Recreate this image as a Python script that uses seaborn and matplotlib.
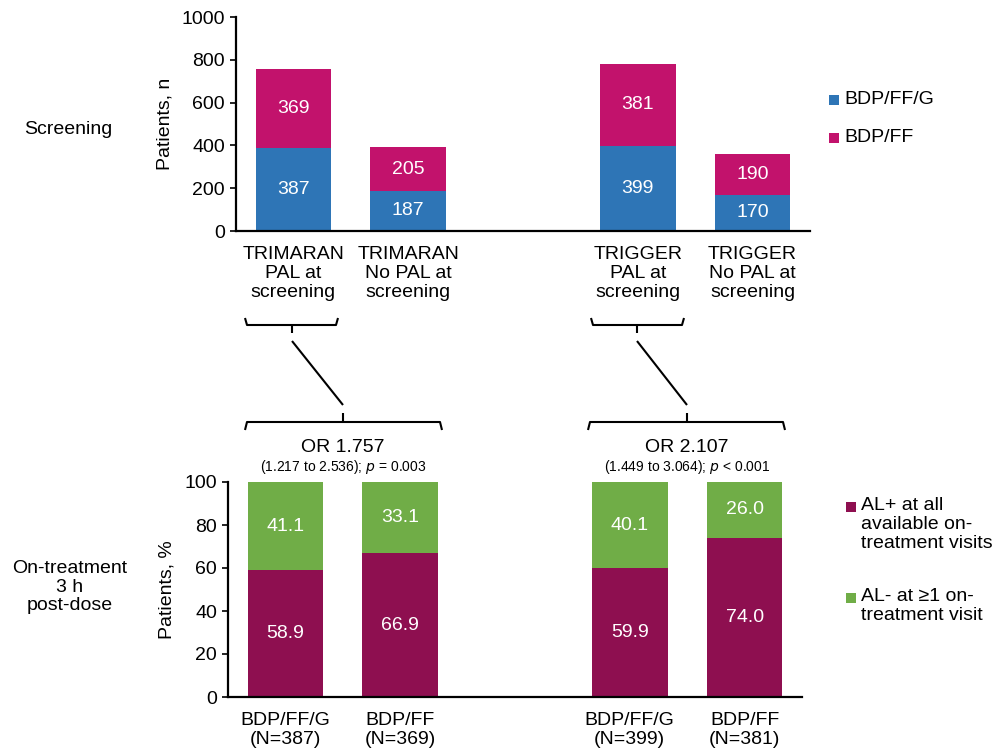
import pandas as pd
import seaborn as sns
import matplotlib.pyplot as plt
from matplotlib.lines import Line2D
from matplotlib.patches import Rectangle

# screening counts (top panel)
screen_groups = ['TRIMARAN\nPAL at\nscreening', 'TRIMARAN\nNo PAL at\nscreening', '',
                 'TRIGGER\nPAL at\nscreening', 'TRIGGER\nNo PAL at\nscreening']
screen_cats = [g for g in screen_groups if g]
n_triple = [387, 187, 399, 170]
n_dual = [369, 205, 381, 190]

# on-treatment percentages (bottom panel)
treat_groups = ['BDP/FF/G\n(N=387)', 'BDP/FF\n(N=369)', ' ',
                'BDP/FF/G\n(N=399)', 'BDP/FF\n(N=381)']
treat_cats = [g for g in treat_groups if g.strip()]
pct_pos = [58.9, 66.9, 59.9, 74.0]
pct_neg = [41.1, 33.1, 40.1, 26.0]

or_main = ['OR 1.757', 'OR 2.107']
or_ci = ['(1.217 to 2.536); $\\it{p}$ = 0.003', '(1.449 to 3.064); $\\it{p}$ < 0.001']

BLUE = '#2E75B6'
PINK = '#C2126C'
MAROON = '#8E0F50'
GREEN = '#70AD47'

sns.set_theme(style='ticks')
plt.rcParams['font.family'] = ['Liberation Sans', 'DejaVu Sans']
plt.rcParams['font.size'] = 14
plt.rcParams['text.color'] = 'black'
plt.rcParams['axes.labelcolor'] = 'black'
plt.rcParams['xtick.color'] = 'black'
plt.rcParams['ytick.color'] = 'black'

W, H = 997, 754
fig = plt.figure(figsize=(W / 100, H / 100), dpi=100)


def px(x, y):
    return x / W, 1 - y / H


def stacked(ax, order, cats, low, high, c_low, c_high, fmt):
    top = pd.DataFrame({'grp': cats, 'val': [a + b for a, b in zip(low, high)]})
    bot = pd.DataFrame({'grp': cats, 'val': low})
    sns.barplot(data=top, x='grp', y='val', order=order, color=c_high,
                saturation=1, width=0.66, linewidth=0, edgecolor='none', ax=ax)
    sns.barplot(data=bot, x='grp', y='val', order=order, color=c_low,
                saturation=1, width=0.66, linewidth=0, edgecolor='none', ax=ax)
    for cat, a, b in zip(cats, low, high):
        i = order.index(cat)
        ax.text(i, a / 2, fmt.format(a), ha='center', va='center', color='white', fontsize=14)
        ax.text(i, a + b / 2, fmt.format(b), ha='center', va='center', color='white', fontsize=14)
    ax.set_xlim(-0.5, 4.5)
    ax.set_xlabel('')
    sns.despine(ax=ax)
    for side in ['left', 'bottom']:
        ax.spines[side].set_linewidth(1.6)
        ax.spines[side].set_color('black')
    ax.tick_params(axis='x', length=0, pad=11, labelsize=14)
    ax.tick_params(axis='y', length=4, width=1.2, pad=4, labelsize=14)
    for t in ax.get_xticklabels():
        t.set_linespacing(1.15)


# top panel
ax1 = fig.add_axes([236 / W, 1 - 231 / H, (810 - 236) / W, (231 - 17) / H])
stacked(ax1, screen_groups, screen_cats, n_triple, n_dual, BLUE, PINK, '{:d}')
ax1.set_ylim(0, 1000)
ax1.set_yticks(range(0, 1001, 200))
ax1.set_ylabel('Patients, n', fontsize=14, labelpad=6)

# bottom panel
ax2 = fig.add_axes([228 / W, 1 - 697 / H, (802 - 228) / W, (697 - 482) / H])
stacked(ax2, treat_groups, treat_cats, pct_pos, pct_neg, MAROON, GREEN, '{:.1f}')
ax2.set_ylim(0, 100)
ax2.set_yticks(range(0, 101, 20))
ax2.set_ylabel('Patients, %', fontsize=14, labelpad=6)

# row labels
fig.text(*px(68, 130), 'Screening', ha='center', va='center', fontsize=14)
fig.text(*px(70, 587), 'On-treatment\n3 h\npost-dose', ha='center', va='center',
         fontsize=14, linespacing=1.15)

# legends
for (y, lab, col) in [(100, 'BDP/FF/G', BLUE), (138, 'BDP/FF', PINK)]:
    fig.add_artist(Rectangle(px(829, y + 5), 10 / W, 10 / H, transform=fig.transFigure,
                             color=col, lw=0))
    fig.text(*px(844, y), lab, ha='left', va='center', fontsize=14)
for (y, lab, col) in [(507, 'AL+ at all\navailable on-\ntreatment visits', MAROON),
                      (598, 'AL- at ≥1 on-\ntreatment visit', GREEN)]:
    fig.add_artist(Rectangle(px(846, y + 5), 10 / W, 10 / H, transform=fig.transFigure,
                             color=col, lw=0))
    fig.text(*px(861, y - 10), lab, ha='left', va='top', fontsize=14, linespacing=1.15)


# brackets and connectors
def line(xs, ys, lw=1.5):
    pts = [px(x, y) for x, y in zip(xs, ys)]
    fig.add_artist(Line2D([p[0] for p in pts], [p[1] for p in pts],
                          transform=fig.transFigure, color='black', lw=lw,
                          solid_joinstyle='round', solid_capstyle='butt'))


for (l, r, c, bl, br, bc) in [(245, 338, 292, 245, 442, 343), (591, 684, 637, 588, 785, 687)]:
    # upper brace under the PAL label
    line([l, l + 2, r - 2, r], [318, 325, 325, 318])
    line([c, c], [325, 333])
    # connector
    line([c, bc], [341, 405])
    # lower brace over the pair
    line([bl, bl + 2, br - 2, br], [430, 422, 422, 430])
    line([bc, bc], [413, 422])

for (cx, a, b) in [(343, or_main[0], or_ci[0]), (687, or_main[1], or_ci[1])]:
    fig.text(*px(cx, 447), a, ha='center', va='center', fontsize=14)
    fig.text(*px(cx, 467), b, ha='center', va='center', fontsize=10)

fig.savefig('out.png', dpi=100, facecolor='white')
